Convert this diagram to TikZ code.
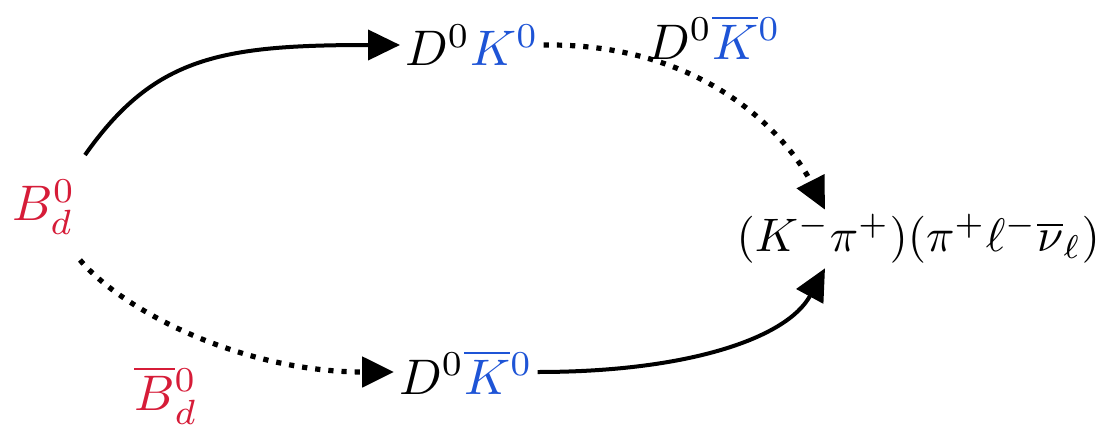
\documentclass[tikz,border=0pt]{standalone}
\usetikzlibrary{arrows.meta,calc}
\definecolor{bred}{RGB}{214,28,56}
\definecolor{kblue}{RGB}{30,84,214}
\begin{document}
\begin{tikzpicture}[x=0.5pt,y=0.5pt,
  lbl/.style={inner sep=0.8pt, scale=2.5},
  solidarrow/.style={line width=2pt, -{Triangle[length=16pt,width=15pt]}},
  dotarrow/.style={line width=2.6pt, dash pattern=on 2.6pt off 4pt, -{Triangle[length=16pt,width=15pt]}}]
\useasboundingbox (0,0) rectangle (1114,435);
\node[lbl] (B) at (44,228) {$\color{bred}B_d^0$};
\node[lbl] (Bb) at (166,40) {$\color{bred}\overline{B}{}_d^0$};
\node[lbl, anchor=west] (DK) at (400,390) {$D^0{\color{kblue}K^0}$};
\node[lbl, anchor=west] (DKbt) at (642,398) {$D^0{\color{kblue}\overline{K}{}^0}$};
\node[lbl, anchor=west] (DKb) at (394,63) {$D^0{\color{kblue}\overline{K}{}^0}$};
\node[lbl, scale=0.94, anchor=west] (F) at (732,196) {$(K^-\pi^+)(\pi^+\ell^-\overline{\nu}_\ell)$};
% connectors
\draw[solidarrow] ($(B)+(41,52)$) .. controls ($(B)+(110,150)$) and ($(DK.west)+(-180,0)$) .. (DK.west);
\draw[dotarrow] (DK.east) .. controls ($(DK.east)+(170,2)$) and ($(F.north west)+(60,65)$) .. ($(F.north west)+(93,0)$);
\draw[dotarrow] ($(B)+(36,-53)$) .. controls ($(B)+(80,-105)$) and ($(DKb.west)+(-150,0)$) .. (DKb.west);
\draw[solidarrow] (DKb.east) .. controls ($(DKb.east)+(150,0)$) and ($(F.south west)+(55,-70)$) .. ($(F.south west)+(93,0)$);
\end{tikzpicture}
\end{document}
